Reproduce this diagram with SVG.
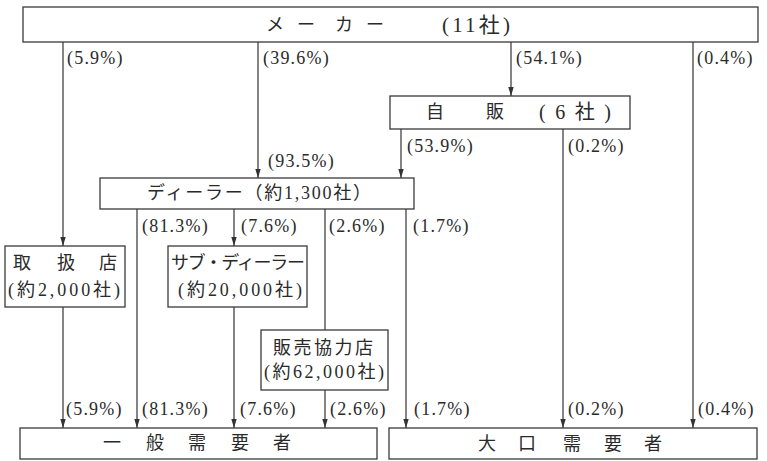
<svg xmlns="http://www.w3.org/2000/svg" width="767" height="461" viewBox="0 0 767 461">
<style>
.box{fill:#fff;stroke:#3a3a3a;stroke-width:1.3}
.ln{fill:none;stroke:#333;stroke-width:1.2}
.t{font-family:"Liberation Serif","Noto Sans CJK JP",serif;font-size:18px;fill:#2a2a2a;dominant-baseline:central}
.c{text-anchor:middle}
.p{font-family:"Liberation Serif","Noto Sans CJK JP",serif;font-size:18px;fill:#2a2a2a;letter-spacing:1.2px;dominant-baseline:central}
</style>
<defs>
<marker id="arr" viewBox="0 0 10 6" refX="10" refY="3" markerWidth="9" markerHeight="6" markerUnits="userSpaceOnUse" orient="auto">
<path d="M0,0 L10,3 L0,6 z" fill="#333"/>
</marker>
</defs>
<rect width="767" height="461" fill="#fff"/>

<g id="connectors">
<line class="ln" x1="63" y1="42" x2="63" y2="246" marker-end="url(#arr)"/>
<line class="ln" x1="258" y1="42" x2="258" y2="178" marker-end="url(#arr)"/>
<line class="ln" x1="511" y1="42" x2="511" y2="96" marker-end="url(#arr)"/>
<line class="ln" x1="693" y1="42" x2="693" y2="428" marker-end="url(#arr)"/>
<line class="ln" x1="401" y1="129" x2="401" y2="178" marker-end="url(#arr)"/>
<line class="ln" x1="563" y1="129" x2="563" y2="428" marker-end="url(#arr)"/>
<line class="ln" x1="137" y1="209" x2="137" y2="428" marker-end="url(#arr)"/>
<line class="ln" x1="234" y1="209" x2="234" y2="246" marker-end="url(#arr)"/>
<line class="ln" x1="325" y1="209" x2="325" y2="330"/>
<line class="ln" x1="406" y1="209" x2="406" y2="428" marker-end="url(#arr)"/>
<line class="ln" x1="63" y1="307" x2="63" y2="428" marker-end="url(#arr)"/>
<line class="ln" x1="234" y1="307" x2="234" y2="428" marker-end="url(#arr)"/>
<line class="ln" x1="325" y1="390" x2="325" y2="428" marker-end="url(#arr)"/>

<text class="p" x="67" y="58">(5.9%)</text>
<text class="p" x="263" y="58">(39.6%)</text>
<text class="p" x="516" y="58">(54.1%)</text>
<text class="p" x="697" y="58">(0.4%)</text>
<text class="p" x="407" y="146">(53.9%)</text>
<text class="p" x="568" y="146">(0.2%)</text>
<text class="p" x="268" y="161">(93.5%)</text>
<text class="p" x="142" y="226">(81.3%)</text>
<text class="p" x="241" y="226">(7.6%)</text>
<text class="p" x="329" y="226">(2.6%)</text>
<text class="p" x="413" y="226">(1.7%)</text>
<text class="p" x="66" y="409">(5.9%)</text>
<text class="p" x="142" y="409">(81.3%)</text>
<text class="p" x="240" y="409">(7.6%)</text>
<text class="p" x="330" y="409">(2.6%)</text>
<text class="p" x="414" y="409">(1.7%)</text>
<text class="p" x="568" y="409">(0.2%)</text>
<text class="p" x="698" y="409">(0.4%)</text>
</g>

<g id="maker">
<rect class="box" x="23" y="7" width="735" height="35"/>
<text class="t" y="25"><tspan x="266">メ</tspan><tspan x="297">ー</tspan><tspan x="335">カ</tspan><tspan x="366">ー</tspan></text>
<text class="t" x="442" y="25" textLength="68" style="font-size:21px">(11社)</text>
</g>

<g id="jihan">
<rect class="box" x="390" y="96" width="240" height="33"/>
<text class="t" y="112"><tspan x="426">自</tspan><tspan x="486">販</tspan></text>
<text class="t" x="539" y="112" textLength="72" style="font-size:20px">(6社)</text>
</g>

<g id="dealer">
<rect class="box" x="100" y="178" width="314" height="31"/>
<text class="t c" x="259" y="193" textLength="224">ディーラー（約1,300社）</text>
</g>

<g id="toriatsukai">
<rect class="box" x="5" y="246" width="120" height="61"/>
<text class="t c" y="263"><tspan x="22">取</tspan><tspan x="66">扱</tspan><tspan x="108">店</tspan></text>
<text class="t c" x="64" y="290" textLength="112">(約2,000社)</text>
</g>

<g id="subdealer">
<rect class="box" x="168" y="246" width="139" height="61"/>
<text class="t c" x="238" y="263" textLength="134">サブ・ディーラー</text>
<text class="t c" x="240" y="290" textLength="124">(約20,000社)</text>
</g>

<g id="hanbai">
<rect class="box" x="261" y="330" width="127" height="60"/>
<text class="t c" x="323" y="348" textLength="100">販売協力店</text>
<text class="t c" x="324" y="372" textLength="120">(約62,000社)</text>
</g>

<g id="ippan">
<rect class="box" x="20" y="428" width="357" height="31"/>
<text class="t c" y="443"><tspan x="112">一</tspan><tspan x="155">般</tspan><tspan x="197">需</tspan><tspan x="240">要</tspan><tspan x="282">者</tspan></text>
</g>

<g id="oguchi">
<rect class="box" x="389" y="428" width="368" height="31"/>
<text class="t c" y="444"><tspan x="487">大</tspan><tspan x="527">口</tspan><tspan x="572">需</tspan><tspan x="613">要</tspan><tspan x="653">者</tspan></text>
</g>
</svg>
